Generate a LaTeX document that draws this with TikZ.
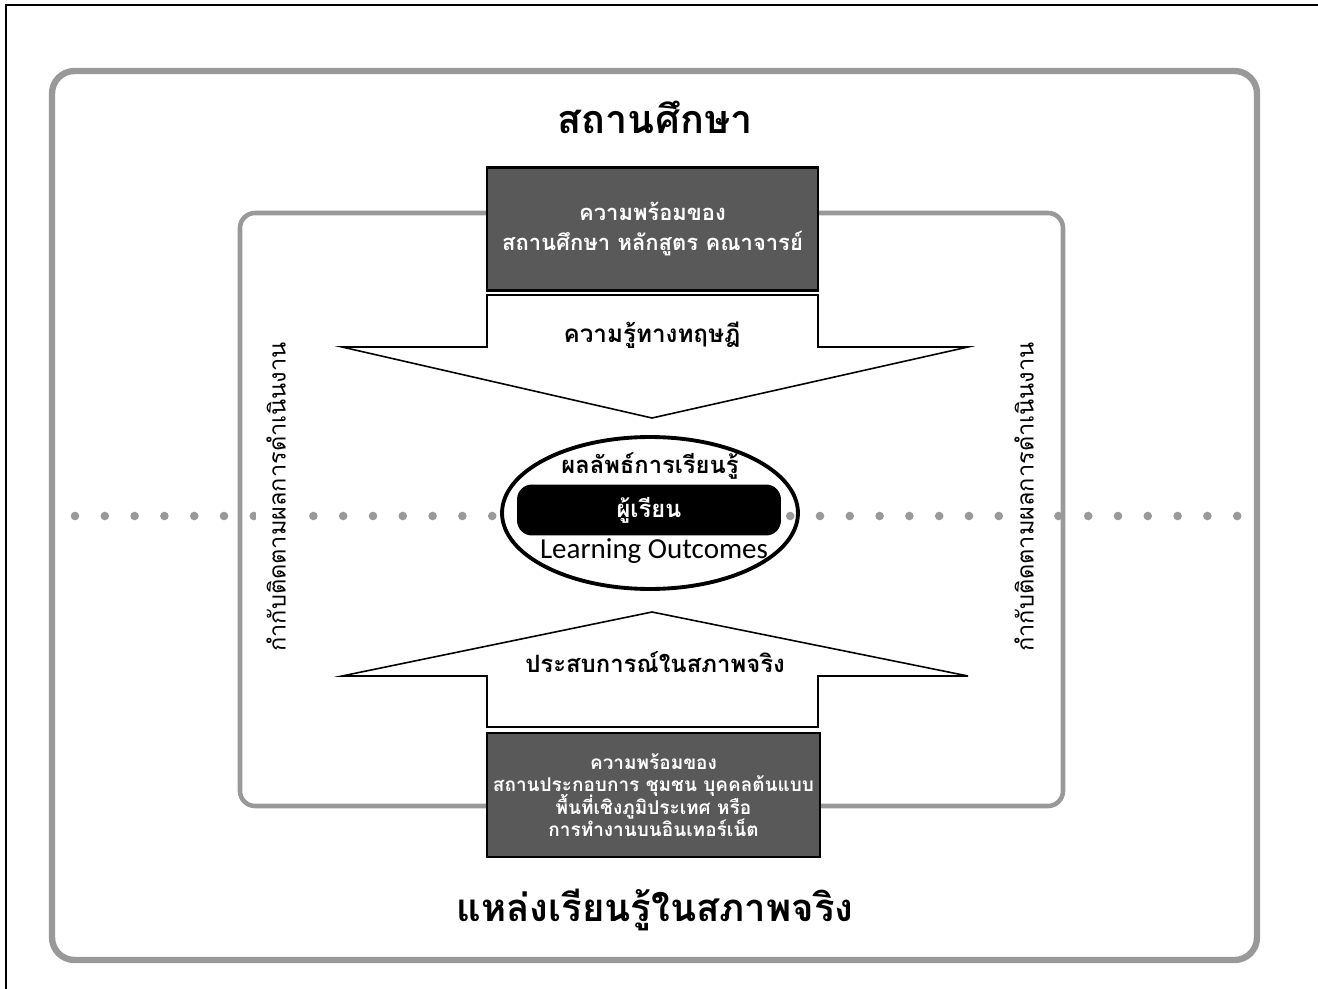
\documentclass[tikz,border=0pt]{standalone}
\usepackage{fontspec}
\usepackage{tikz}
\usetikzlibrary{calc,shapes.geometric}
\newfontfamily\thaifont[Script=Thai]{Loma}
\newfontfamily\latinfont{Carlito}
\definecolor{framegray}{HTML}{999999}
\definecolor{boxgray}{HTML}{595959}
\newcommand{\tightlines}{\lineskiplimit=-\maxdimen}
\tikzset{
	frame/.style={draw=framegray,rounded corners=0.45cm},
	darkbox/.style={draw=black,line width=1.2pt,fill=boxgray,text=white,align=center,inner sep=0pt},
	bigarrow/.style={draw=black,line width=0.9pt,fill=white},
	sidelabel/.style={fill=white,font=\thaifont\fontsize{13.4}{15}\selectfont,inner xsep=2pt,inner ysep=6pt}
}
\begin{document}
\begin{tikzpicture}[x=0.02cm,y=-0.02cm]
	\useasboundingbox (0,0) rectangle (1318,989);
	%page border
	\draw[line width=0.9pt] (6,989)--(6,5)--(1318,5);
	
	%frames
	\draw[frame,line width=3.6pt] (52,71) rectangle (1257,960);
	\draw[frame,line width=2.6pt,rounded corners=0.3cm] (240,213) rectangle (1063,806);
	
	%dotted line
	\foreach \i in {0,...,39}
		\fill[framegray] (75+29.8*\i,516) circle (4.3);
	
	%arrows
	\draw[bigarrow] (487,295)--(818,295)--(818,347)--(968,347)--(652,418)--(342,347)--(487,347)--cycle;
	\draw[bigarrow] (487,727)--(818,727)--(818,676)--(968,676)--(652,612)--(342,676)--(487,676)--cycle;
	
	%boxes
	\node[darkbox,minimum width=6.62cm,minimum height=2.46cm,font=\thaifont\bfseries\fontsize{12.5}{17.6}\selectfont\tightlines] (school) at (652.5,229) {ความพร้อมของ\\สถานศึกษา หลักสูตร คณาจารย์};
	\node[darkbox,minimum width=6.66cm,minimum height=2.48cm,font=\thaifont\bfseries\fontsize{10.8}{12.8}\selectfont\tightlines] (site) at (653.5,795) {ความพร้อมของ\\สถานประกอบการ ชุมชน บุคคลต้นแบบ\\พื้นที่เชิงภูมิประเทศ หรือ\\การทำงานบนอินเทอร์เน็ต};
	
	%centre
	\node[draw=black,line width=2.2pt,ellipse,minimum width=5.92cm,minimum height=3.04cm] (outcome) at (650,513) {};
	\node[fill=black,rounded corners=0.3cm,minimum width=5.28cm,minimum height=1.02cm,text=white,font=\thaifont\bfseries\fontsize{13.5}{15}\selectfont] (learner) at (649,510) {ผู้เรียน};
	\node[font=\thaifont\bfseries\fontsize{13.5}{15}\selectfont] (outth) at (650,466) {ผลลัพธ์การเรียนรู้};
	\node[font=\latinfont\fontsize{16.5}{18}\selectfont] (outen) at (654,551) {Learning Outcomes};
	
	%arrow labels
	\node[font=\thaifont\bfseries\fontsize{13.8}{15}\selectfont] (theory) at (652,335) {ความรู้ทางทฤษฎี};
	\node[font=\thaifont\bfseries\fontsize{13.6}{15}\selectfont] (practice) at (655,662) {ประสบการณ์ในสภาพจริง};
	
	%side labels
	\node[sidelabel,rotate=90] (monl) at (276,497) {กำกับติดตามผลการดำเนินงาน};
	\node[sidelabel,rotate=90] (monr) at (1024,497) {กำกับติดตามผลการดำเนินงาน};
	
	%titles
	\node[font=\thaifont\bfseries\fontsize{22.5}{26}\selectfont] (top) at (655,117) {สถานศึกษา};
	\node[font=\thaifont\bfseries\fontsize{21.8}{26}\selectfont] (bottom) at (655,910) {แหล่งเรียนรู้ในสภาพจริง};
\end{tikzpicture}
\end{document}
